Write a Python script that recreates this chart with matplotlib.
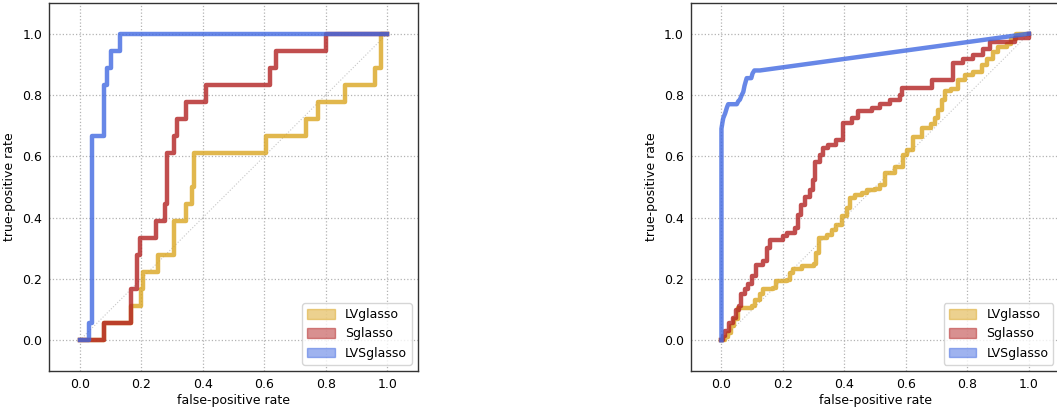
import numpy as np
import matplotlib
matplotlib.use('Agg')
import matplotlib.pyplot as plt
import matplotlib.patches as mpatches

names = ['LVglasso', 'Sglasso', 'LVSglasso']
colors = ['goldenrod', 'firebrick', 'royalblue']

# left panel (small sample): step corners (steps-post)
fpr_lv_a = [0, 0.08, 0.168, 0.198, 0.207, 0.254, 0.306, 0.344, 0.366, 0.373, 0.607, 0.736, 0.774, 0.861, 0.961, 0.98, 1.0]
tpr_lv_a = [0, 0.056, 0.111, 0.167, 0.222, 0.278, 0.389, 0.444, 0.5, 0.611, 0.667, 0.722, 0.778, 0.833, 0.889, 1.0, 1.0]
fpr_s_a = [0, 0.08, 0.167, 0.187, 0.196, 0.247, 0.276, 0.285, 0.306, 0.315, 0.344, 0.409, 0.62, 0.639, 0.8, 1.0]
tpr_s_a = [0, 0.056, 0.167, 0.278, 0.333, 0.389, 0.444, 0.611, 0.667, 0.722, 0.778, 0.833, 0.889, 0.944, 1.0, 1.0]
fpr_lvs_a = [0, 0.03, 0.04, 0.08, 0.09, 0.1, 0.13, 1.0]
tpr_lvs_a = [0, 0.056, 0.667, 0.833, 0.889, 0.944, 1.0, 1.0]

# right panel (large sample)
fpr_lv_b = [0, 0.01, 0.02, 0.03, 0.04, 0.055, 0.098, 0.109, 0.125, 0.136, 0.168, 0.179, 0.212, 0.223, 0.233,
            0.263, 0.3, 0.309, 0.318, 0.342, 0.358, 0.374, 0.391, 0.407, 0.418, 0.434, 0.456, 0.472, 0.499, 0.515,
            0.531, 0.564, 0.591, 0.602, 0.623, 0.651, 0.683, 0.694, 0.705, 0.716, 0.726, 0.748, 0.77, 0.791, 0.818,
            0.846, 0.862, 0.883, 0.9, 0.927, 0.943, 0.959, 1.0]
tpr_lv_b = [0, 0.012, 0.024, 0.046, 0.068, 0.106, 0.111, 0.13, 0.15, 0.166, 0.171, 0.193, 0.198, 0.22, 0.231,
            0.241, 0.25, 0.285, 0.334, 0.344, 0.361, 0.377, 0.404, 0.431, 0.464, 0.474, 0.48, 0.49, 0.495, 0.505,
            0.545, 0.566, 0.604, 0.621, 0.664, 0.691, 0.707, 0.724, 0.75, 0.783, 0.813, 0.821, 0.848, 0.864, 0.875,
            0.897, 0.919, 0.94, 0.956, 0.967, 0.984, 1.0, 1.0]
fpr_s_b = [0, 0.005, 0.012, 0.025, 0.036, 0.047, 0.058, 0.063, 0.076, 0.087, 0.098, 0.112, 0.136, 0.149, 0.158,
           0.199, 0.214, 0.239, 0.25, 0.26, 0.271, 0.288, 0.298, 0.304, 0.32, 0.331, 0.347, 0.374, 0.396, 0.423,
           0.445, 0.49, 0.515, 0.548, 0.582, 0.586, 0.685, 0.753, 0.786, 0.818, 0.851, 0.873, 0.954, 1.0]
tpr_s_b = [0, 0.015, 0.03, 0.057, 0.074, 0.1, 0.111, 0.15, 0.166, 0.185, 0.209, 0.247, 0.258, 0.301, 0.326,
           0.339, 0.35, 0.366, 0.41, 0.442, 0.469, 0.49, 0.523, 0.583, 0.605, 0.626, 0.637, 0.653, 0.71, 0.724,
           0.749, 0.756, 0.772, 0.783, 0.8, 0.824, 0.85, 0.904, 0.919, 0.932, 0.951, 0.973, 0.985, 1.0]
# LVSglasso right: corner points, last segment is a straight line
fpr_lvs_b = [0, 0, 0.004, 0.006, 0.012, 0.018, 0.022, 0.05, 0.055, 0.06, 0.066, 0.071, 0.075, 0.082, 0.097,
             0.101, 0.107, 0.125, 1.0]
tpr_lvs_b = [0, 0.69, 0.715, 0.725, 0.74, 0.76, 0.77, 0.77, 0.78, 0.785, 0.8, 0.81, 0.83, 0.855, 0.855,
             0.87, 0.88, 0.88, 1.0]

plt.rcParams['font.size'] = 9

fig = plt.figure(figsize=(10.57, 4.07), dpi=100)
ax1 = fig.add_axes([49/1057, 36/407, 369/1057, 368/407])
ax2 = fig.add_axes([690.7/1057, 36/407, 369/1057, 368/407])


def setup(ax):
    ax.plot([0, 1], [0, 1], ':', color='0.78', lw=0.8, zorder=1)
    ax.set_xlim(-0.1, 1.1)
    ax.set_ylim(-0.1, 1.1)
    ax.set_xticks(np.arange(0, 1.01, 0.2))
    ax.set_yticks(np.arange(0, 1.01, 0.2))
    ax.grid(True, ls=':', color='0.7', lw=0.9)
    ax.tick_params(length=0, pad=5, labelsize=9)
    for sp in ax.spines.values():
        sp.set_color('0.2')
        sp.set_linewidth(1.0)
    ax.set_xlabel('false-positive rate', fontsize=9, labelpad=2)
    ax.set_ylabel('true-positive rate', fontsize=9, labelpad=4)
    handles = [mpatches.Patch(color=c, alpha=0.5, label=n) for c, n in zip(colors, names)]
    ax.legend(handles=handles, loc='lower right', fontsize=9, handlelength=2.2, handleheight=0.8)


ax1.plot(fpr_lv_a, tpr_lv_a, drawstyle='steps-post', color=colors[0], lw=3.2, alpha=0.8)
ax1.plot(fpr_s_a, tpr_s_a, drawstyle='steps-post', color=colors[1], lw=3.2, alpha=0.8)
ax1.plot(fpr_lvs_a, tpr_lvs_a, drawstyle='steps-post', color=colors[2], lw=3.2, alpha=0.8)
setup(ax1)

ax2.plot(fpr_lv_b, tpr_lv_b, drawstyle='steps-post', color=colors[0], lw=3.2, alpha=0.8)
ax2.plot(fpr_s_b, tpr_s_b, drawstyle='steps-post', color=colors[1], lw=3.2, alpha=0.8)
ax2.plot(fpr_lvs_b, tpr_lvs_b, color=colors[2], lw=3.2, alpha=0.8)
setup(ax2)

fig.savefig('out.png', dpi=100)
